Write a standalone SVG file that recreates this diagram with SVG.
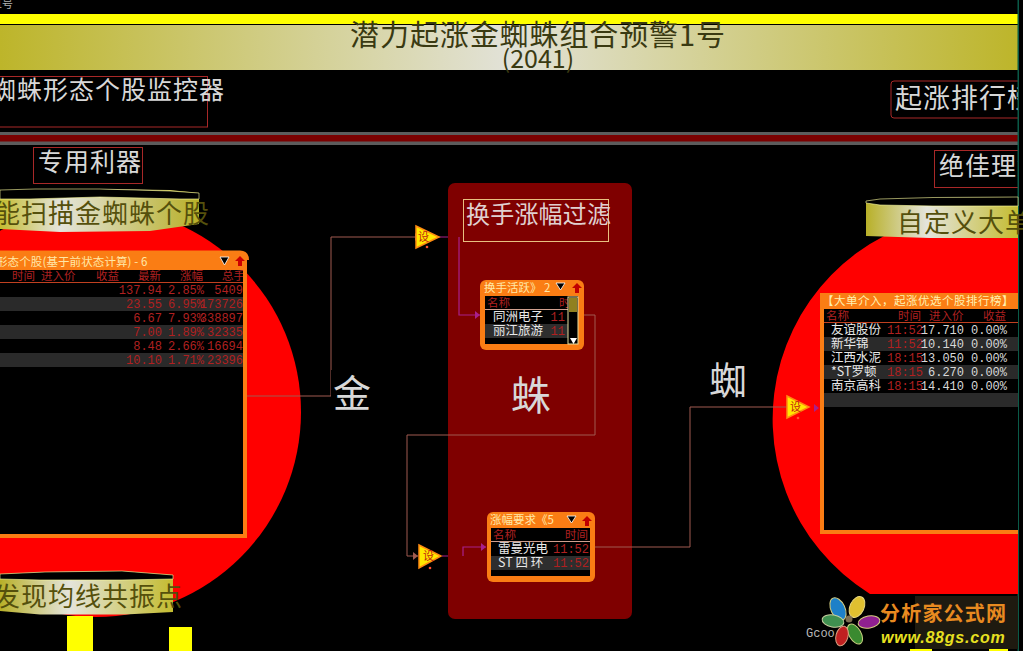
<svg xmlns="http://www.w3.org/2000/svg" width="1023" height="651" viewBox="0 0 1023 651">
<style>
text{font-family:"Noto Sans CJK SC","Liberation Sans",sans-serif}
.m{font-family:"Liberation Mono","Noto Sans CJK SC",monospace;font-size:12px}
.lab{fill:#d8d8d8;font-size:25px;letter-spacing:1px}
.box{fill:none;stroke:#a82828;stroke-width:1}
.dark{fill:#55500c;font-size:26px;letter-spacing:1px}
.r{fill:#b02020;font-size:11.5px}
.rn{fill:#b02020;font-size:12px;font-family:"Liberation Mono",monospace;text-anchor:end}
.w{fill:#e8e8e8;font-size:12.5px}
.wn{fill:#d8d8d8;font-size:12px;font-family:"Liberation Mono",monospace;text-anchor:end}
.big{fill:#d8d8d8;font-size:40px}
.pur{fill:none;stroke:#a8208c;stroke-width:1.2}
.brn{fill:none;stroke:#a05a50;stroke-width:1}
.tri{fill:#ffe800;stroke:#ff8a10;stroke-width:1.5}
.tl{fill:#c02010;font-size:11px}
.or{fill:none;stroke:#fa7d14;stroke-width:4}
.h{fill:#ffe8a8;font-size:11.5px}
</style>
<defs>
<linearGradient id="g"><stop offset="0" stop-color="#bdb52a"/><stop offset=".5" stop-color="#e2e2d8"/><stop offset="1" stop-color="#bdb52a"/></linearGradient>
<linearGradient id="g2"><stop offset="0" stop-color="#c4bc30"/><stop offset=".3" stop-color="#e4e4dc"/><stop offset="1" stop-color="#b8b028"/></linearGradient>
<linearGradient id="g3"><stop offset="0" stop-color="#b8b028"/><stop offset=".4" stop-color="#e4e4dc"/><stop offset="1" stop-color="#c4bc30"/></linearGradient>
</defs>
<rect width="1023" height="651" fill="#000"/>
<text x="-4" y="8" fill="#b0b0b0" font-size="11">1号</text>
<g id="title">
<rect x="0" y="14" width="1018" height="10" fill="#ffff00"/>
<rect x="0" y="25" width="1018" height="45" fill="url(#g)"/>
<text x="538" y="46" font-size="29" fill="#3a3a12" text-anchor="middle" letter-spacing=".9">潜力起涨金蜘蛛组合预警1号</text>
<text x="538" y="68" font-size="25" fill="#3a3a12" text-anchor="middle">(2041)</text>
</g>
<g id="divider">
<rect x="0" y="132" width="1018" height="13" fill="#5c5c5c"/>
<rect x="0" y="135" width="1018" height="6.500" fill="#7a0000"/>
</g>
<g id="label-monitor"><rect class="box" x="-2" y="76.500" width="209.500" height="50.500"/><text class="lab" x="-9" y="99" font-size="24">蜘蛛形态个股监控器</text></g>
<g id="label-rank"><rect class="box" x="891" y="81" width="130" height="37" rx="3"/><text class="lab" x="895" y="108" style="font-size:27px">起涨排行榜</text></g>
<g id="label-tool"><rect class="box" x="33.500" y="147.500" width="109" height="36"/><text class="lab" x="38" y="171">专用利器</text></g>
<g id="label-ideal"><rect class="box" x="934.500" y="150.500" width="90" height="37"/><text class="lab" x="939" y="175">绝佳理念</text></g>
<rect x="1017.500" y="0" width="1.500" height="651" fill="#0a5a48"/>
<rect x="1019" y="0" width="4" height="651" fill="#000"/>
<g id="left-circle"><circle cx="96" cy="412" r="205" fill="#ff0000"/></g>
<g id="right-circle"><path d="M1018 217A205 205 0 0 0 982 213A206 206 0 0 0 870 594H1018Z" fill="#ff0000"/></g>
<g id="banner-left">
<path d="M0 190H60L100 189L170 190L199 193V224L150 231L60 232L0 229Z" fill="url(#g2)"/>
<path d="M0 190L35 189L100 189L170 191L199 193V199H180L100 197L30 199H0Z" fill="#000" stroke="#ffffa0" stroke-width=".6"/>
<text class="dark" x="-6" y="223" style="font-size:26px">能扫描金蜘蛛个股</text>
</g>
<g id="banner-right">
<path d="M866 201L930 198L1018 197V238L930 238L866 236Z" fill="url(#g3)"/>
<path d="M866 201L880 199L933 197.500L1018 197V206H933L880 205L866 203Z" fill="#000" stroke="#ffffa0" stroke-width=".6"/>
<text class="dark" x="897" y="232">自定义大单</text>
</g>
<g id="banner-bottom">
<path d="M0 574L45 572L122 571L173 575V612L125 614.500L40 614.500L0 611Z" fill="url(#g3)"/>
<path d="M0 574L45 572L122 571L173 575V579L122 580H40L0 579Z" fill="#000" stroke="#ffffa0" stroke-width=".6"/>
<text class="dark" x="-6" y="606">发现均线共振点</text>
</g>
<g id="bars">
<rect x="67" y="616" width="26" height="35" fill="#ffff00"/>
<rect x="169" y="627" width="23" height="24" fill="#ffff00"/>
<rect x="910" y="649" width="22" height="2" fill="#ffff00"/>
<rect x="989" y="649" width="19" height="2" fill="#ffff00"/>
</g>
<g id="connectors">
<path class="brn" d="M247 396H331V237H415"/>
<path class="pur" d="M439 237H459V315H480"/>
<path class="brn" d="M584 315H595V435H407V556H418"/>
<path class="pur" d="M442 556H463V547H486"/>
<path class="brn" d="M595 547H690V407H786"/>
<path d="M415 233L420 237L415 241Z" fill="#a05a50"/>
<path d="M475 311L480 315L475 319Z" fill="#a8208c"/>
<path d="M413 552L418 556L413 560Z" fill="#a05a50"/>
<path d="M481 543L486 547L481 551Z" fill="#a8208c"/>
</g>
<g id="filter-panel">
<rect x="448" y="183" width="184" height="436" rx="7" fill="#7f0000"/>
<rect x="463.500" y="199.500" width="145" height="42" fill="none" stroke="#e8c080"/>
<text x="466" y="223" fill="#e0d0d0" font-size="24" letter-spacing=".2">换手涨幅过滤</text>
<text x="531" y="410" fill="#d8d8d8" font-size="40" text-anchor="middle">蛛</text>
</g>
<path class="pur" d="M459 237V315H480"/>
<path d="M475 311L480 315L475 319Z" fill="#a8208c"/>
<path class="pur" d="M463 556V547H486"/>
<path d="M481 543L486 547L481 551Z" fill="#a8208c"/>
<path class="brn" d="M584 315H595V435H448M595 547H632"/>
<g id="label-jin"><rect x="331" y="370" width="42" height="44" fill="#000"/><text class="big" x="333" y="407" style="font-size:38px">金</text></g>
<g id="label-zhi"><text class="big" x="709" y="394" style="font-size:38px">蜘</text></g>
<g id="table-left">
<rect x="-2" y="254" width="248" height="283" fill="#000"/>
<rect x="-2" y="254" width="246.500" height="16" fill="#fa7d14"/>
<path class="or" d="M-2 536H245V256"/>
<path d="M-2 252.500H240Q247 253 247 260" class="or" stroke-width="3"/>
<text x="-4" y="266" fill="#ffe8a8" font-size="11.500" letter-spacing=".1">形态个股(基于前状态计算) - 6</text>
<path d="M220 257h9l-4.500 8z" fill="#000" stroke="#fff" stroke-width=".8"/>
<path d="M240 256l5 5h-3v5h-4v-5h-3z" fill="#c00"/>
<g class="zebra" fill="#2a2a2a"><rect x="0" y="297" width="243" height="14"/><rect x="0" y="325" width="243" height="14"/><rect x="0" y="353" width="243" height="14"/></g>
<rect y="282" width="243" height="1" fill="#c04020"/>
<text class="r" x="12" y="280">时间</text><text class="r" x="41" y="280">进入价</text><text class="r" x="96" y="280">收益</text><text class="r" x="138" y="280">最新</text><text class="r" x="180" y="280">涨幅</text><text class="r" x="222" y="280">总手</text>
<g>
<text class="rn" x="162" y="294">137.94</text><text class="rn" x="204" y="294">2.85%</text><text class="rn" x="243" y="294" clip-path="none">5409</text>
<text class="rn" x="162" y="308">23.55</text><text class="rn" x="204" y="308">6.95%</text><text class="rn" x="243" y="308">173726</text>
<text class="rn" x="162" y="322">6.67</text><text class="rn" x="204" y="322">7.93%</text><text class="rn" x="243" y="322">338897</text>
<text class="rn" x="162" y="336">7.00</text><text class="rn" x="204" y="336">1.89%</text><text class="rn" x="243" y="336">32335</text>
<text class="rn" x="162" y="350">8.48</text><text class="rn" x="204" y="350">2.66%</text><text class="rn" x="243" y="350">16694</text>
<text class="rn" x="162" y="364">10.10</text><text class="rn" x="204" y="364">1.71%</text><text class="rn" x="243" y="364">23396</text>
</g>
<rect x="243" y="270" width="4" height="268" fill="#fa7d14"/>
</g>
<g id="table-turnover">
<rect x="480" y="280" width="104" height="70" rx="6" fill="#fa7d14"/>
<rect x="485" y="296" width="93" height="48" fill="#000"/>
<rect x="485" y="324" width="84" height="14" fill="#2e2e2e"/>
<rect x="485" y="309" width="84" height="1" fill="#d0a090"/>
<text class="h" x="484" y="292">换手活跃》 2</text>
<path d="M556 283h9l-4.500 7z" fill="#000" stroke="#fff" stroke-width=".8"/>
<path d="M577 283l5 5h-3v5h-4v-5h-3z" fill="#c00000"/>
<text class="r" x="487" y="307">名称</text><text class="r" x="559" y="307">时</text>
<text class="w" x="493" y="321">同洲电子</text><text class="rn" x="565" y="321">11</text>
<text class="w" x="493" y="335">丽江旅游</text><text class="rn" x="565" y="335">11</text>
<rect x="568" y="297" width="10" height="47" fill="#000" stroke="#e8e0a0" stroke-width="1"/>
<rect x="569" y="298" width="8" height="14" fill="#908020"/>
<path d="M570 338h7l-3.500 6z" fill="#fff"/>
</g>
<g id="table-rise">
<rect x="487" y="512" width="108" height="70" rx="6" fill="#fa7d14"/>
<rect x="491" y="528" width="99" height="48" fill="#000"/>
<rect x="491" y="556" width="99" height="14" fill="#2e2e2e"/>
<rect x="491" y="541" width="99" height="1" fill="#d0a090"/>
<text class="h" x="490" y="524">涨幅要求《5</text>
<path d="M567 516h9l-4.500 7z" fill="#000" stroke="#fff" stroke-width=".8"/>
<path d="M587 516l5 5h-3v5h-4v-5h-3z" fill="#c00000"/>
<text class="r" x="493" y="539">名称</text><text class="r" x="565" y="539">时间</text>
<text class="w" x="498" y="553">雷曼光电</text><text class="rn" x="589" y="553">11:52</text>
<text class="w" x="498" y="567">ST 四 环</text><text class="rn" x="589" y="567">11:52</text>
</g>
<g id="table-right">
<rect x="820" y="293" width="198" height="241" fill="#fa7d14"/>
<rect x="824" y="309" width="194" height="221" fill="#000"/>
<rect x="824" y="337" width="194" height="14" fill="#2a2a2a"/><rect x="824" y="365" width="194" height="14" fill="#2a2a2a"/><rect x="824" y="393" width="194" height="14" fill="#2a2a2a"/>
<rect x="824" y="322" width="194" height="1" fill="#c04020"/>
<text x="822" y="305" fill="#fff0b0" font-size="11.500" letter-spacing=".5">【大单介入，起涨优选个股排行榜】</text>
<text class="r" x="826" y="320">名称</text><text class="r" x="898" y="320">时间</text><text class="r" x="929" y="320">进入价</text><text class="r" x="983" y="320">收益</text>
<text class="w" x="831" y="334">友谊股份</text><text class="rn" x="923" y="334">11:52</text><text class="wn" x="964" y="334">17.710</text><text class="wn" x="1007" y="334">0.00%</text>
<text class="w" x="831" y="348">新华锦</text><text class="rn" x="923" y="348">11:52</text><text class="wn" x="964" y="348">10.140</text><text class="wn" x="1007" y="348">0.00%</text>
<text class="w" x="831" y="362">江西水泥</text><text class="rn" x="923" y="362">18:15</text><text class="wn" x="964" y="362">13.050</text><text class="wn" x="1007" y="362">0.00%</text>
<text class="w" x="831" y="376">*ST罗顿</text><text class="rn" x="923" y="376">18:15</text><text class="wn" x="964" y="376">6.270</text><text class="wn" x="1007" y="376">0.00%</text>
<text class="w" x="831" y="390">南京高科</text><text class="rn" x="923" y="390">18:15</text><text class="wn" x="964" y="390">14.410</text><text class="wn" x="1007" y="390">0.00%</text>
</g>
<g id="trigger-1"><path class="tri" d="M416 226L439 237L416 248Z"/><text class="tl" x="418" y="241">设</text><circle cx="427" cy="247" r="1.300" fill="#ff5030"/></g>
<g id="trigger-2"><path class="tri" d="M419 545L441 556L419 568Z"/><text class="tl" x="423" y="560">设</text><circle cx="430" cy="568" r="1.300" fill="#ff5030"/></g>
<g id="trigger-3"><path class="tri" d="M787 396L809 407L787 418Z"/><text class="tl" x="790" y="411">设</text><circle cx="798" cy="418" r="1.300" fill="#ff5030"/></g>
<path d="M814 404L819 408L814 412Z" fill="#a8208c"/>
<g id="logo">
<rect x="915" y="596" width="103" height="53" fill="#1e1a10"/>
<ellipse cx="838" cy="609" rx="7" ry="12" fill="#1e80c8" stroke="#d8d080" transform="rotate(-25 838 609)"/>
<ellipse cx="857" cy="607" rx="7" ry="11" fill="#e0c030" stroke="#e8d880" transform="rotate(25 857 607)"/>
<ellipse cx="869" cy="622" rx="6" ry="11" fill="#902090" stroke="#d8d080" transform="rotate(80 869 622)"/>
<ellipse cx="855" cy="634" rx="6" ry="11" fill="#3a8a30" stroke="#c8d080" transform="rotate(-30 855 634)"/>
<ellipse cx="842" cy="636" rx="6" ry="10" fill="#c02020" stroke="#d8a080" transform="rotate(15 842 636)"/>
<ellipse cx="833" cy="621" rx="6" ry="11" fill="#409050" stroke="#c8d0a0" transform="rotate(-80 833 621)"/>
<circle cx="849" cy="619" r="3.500" fill="#807050"/>
<text x="880" y="621" font-size="20" font-weight="700" fill="#e88a20" letter-spacing="1.200">分析家公式网</text>
<text x="881" y="643" font-size="16" font-weight="700" font-style="italic" fill="#e8e020" style="font-family:'Liberation Sans',sans-serif" letter-spacing=".8">www.88gs.com</text>
<text x="806" y="637" font-size="12" fill="#b8b8b8" style="font-family:'Liberation Mono',monospace">Gcoo</text>
</g>
</svg>
